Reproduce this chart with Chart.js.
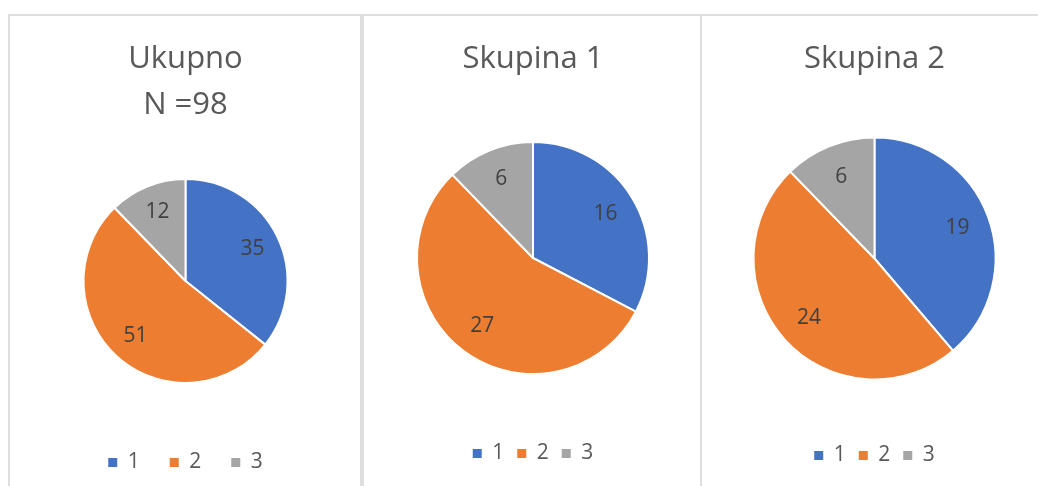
<!DOCTYPE html>
<html>
<head>
<meta charset="utf-8">
<script src="https://cdn.jsdelivr.net/npm/chart.js@4"></script>
<style>
  html, body { margin: 0; padding: 0; background: #fff; overflow: hidden; }
  body { width: 1038px; height: 486px; position: relative; }
  .panel { position: absolute; top: 14px; height: 520px; border: 2px solid #dedede; box-sizing: border-box; }
  canvas { position: absolute; top: -1px; }
</style>
</head>
<body>
<div class="panel" style="left:8px; width:354px;"><canvas id="c1" width="351" height="471" style="left:0"></canvas></div>
<div class="panel" style="left:362px; width:340px;"><canvas id="c2" width="336" height="471" style="left:1px"></canvas></div>
<div class="panel" style="left:700px; width:360px;"><canvas id="c3" width="345" height="471" style="left:0"></canvas></div>
<script>
// Chart data
const categories = ['1', '2', '3'];
const ukupnoValues = [35, 51, 12];
const skupina1Values = [16, 27, 6];
const skupina2Values = [19, 24, 6];
const ukupnoTitle = ['Ukupno', 'N =98'];
const skupina1Title = 'Skupina 1';
const skupina2Title = 'Skupina 2';

const colors = ['#4472C4', '#ED7D31', '#A5A5A5'];
const fontFamily = "'Open Sans', 'Noto Sans', sans-serif";

// Draw value labels inside each slice
const sliceLabels = {
    id: 'sliceLabels',
    afterDatasetsDraw(chart) {
        const ctx = chart.ctx;
        const meta = chart.getDatasetMeta(0);
        const values = chart.data.datasets[0].data;
        ctx.save();
        ctx.font = '21px ' + fontFamily;
        ctx.fillStyle = '#404040';
        ctx.textAlign = 'center';
        ctx.textBaseline = 'middle';
        meta.data.forEach((arc, i) => {
            const p = arc.getProps(['x', 'y', 'startAngle', 'endAngle', 'outerRadius'], true);
            const mid = (p.startAngle + p.endAngle) / 2;
            const d = p.outerRadius * 0.73;
            ctx.fillText(String(values[i]), p.x + Math.cos(mid) * d, p.y + Math.sin(mid) * d);
        });
        ctx.restore();
    }
};

function makePie(id, title, values, opts) {
    const baseLabels = Chart.overrides.pie.plugins.legend.labels.generateLabels;
    return new Chart(document.getElementById(id), {
        type: 'pie',
        data: {
            labels: categories,
            datasets: [{
                data: values,
                backgroundColor: colors,
                borderColor: '#ffffff',
                borderWidth: 2,
                hoverOffset: 0,
                radius: opts.radius
            }]
        },
        options: {
            responsive: false,
            animation: false,
            events: [],
            layout: { padding: { bottom: opts.padBottom, left: opts.padLeft || 0 } },
            plugins: {
                tooltip: { enabled: false },
                title: {
                    display: true,
                    text: title,
                    color: '#595959',
                    font: { family: fontFamily, size: 31, weight: 'normal', lineHeight: 1.484 },
                    padding: { top: 21, bottom: opts.titleGap }
                },
                legend: {
                    position: 'bottom',
                    labels: {
                        color: '#595959',
                        font: { family: fontFamily, size: 21 },
                        boxWidth: 9,
                        boxHeight: 9,
                        padding: opts.legendPad,
                        generateLabels(chart) {
                            return baseLabels(chart).map(item => Object.assign(item, { lineWidth: 0 }));
                        }
                    }
                }
            }
        },
        plugins: [sliceLabels]
    });
}

makePie('c1', ukupnoTitle, ukupnoValues, { radius: 102, padBottom: 3, titleGap: 12, legendPad: 30 });
makePie('c2', skupina1Title, skupina1Values, { radius: 116, padBottom: 12, titleGap: 4, legendPad: 13 });
makePie('c3', skupina2Title, skupina2Values, { radius: 121, padBottom: 10, titleGap: 3, legendPad: 13 });
</script>
</body>
</html>
